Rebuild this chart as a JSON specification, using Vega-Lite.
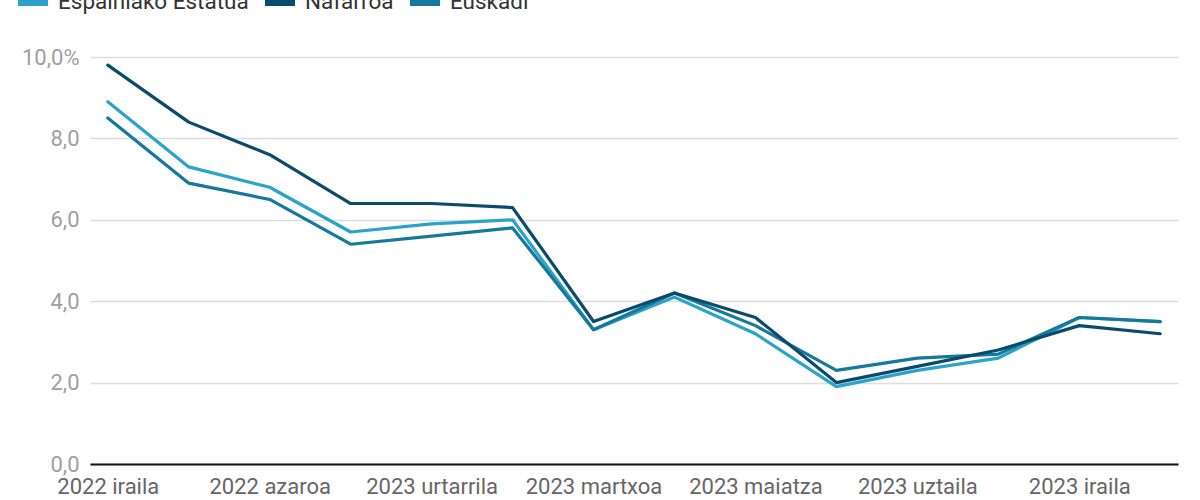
{
  "$schema": "https://vega.github.io/schema/vega-lite/v6.json",
  "width": 1088,
  "height": 407,
  "autosize": {"type": "none"},
  "padding": {"left": 90, "top": 57, "right": 22, "bottom": 36},
  "background": "white",
  "config": {
    "font": "Roboto",
    "view": {"stroke": null}
  },
  "data": {
    "values": [
      {"month": "2022 iraila", "area": "Espainiako Estatua", "rate": 8.9},
      {"month": "2022 urria", "area": "Espainiako Estatua", "rate": 7.3},
      {"month": "2022 azaroa", "area": "Espainiako Estatua", "rate": 6.8},
      {"month": "2022 abendua", "area": "Espainiako Estatua", "rate": 5.7},
      {"month": "2023 urtarrila", "area": "Espainiako Estatua", "rate": 5.9},
      {"month": "2023 otsaila", "area": "Espainiako Estatua", "rate": 6.0},
      {"month": "2023 martxoa", "area": "Espainiako Estatua", "rate": 3.3},
      {"month": "2023 apirila", "area": "Espainiako Estatua", "rate": 4.1},
      {"month": "2023 maiatza", "area": "Espainiako Estatua", "rate": 3.2},
      {"month": "2023 ekaina", "area": "Espainiako Estatua", "rate": 1.9},
      {"month": "2023 uztaila", "area": "Espainiako Estatua", "rate": 2.3},
      {"month": "2023 abuztua", "area": "Espainiako Estatua", "rate": 2.6},
      {"month": "2023 iraila", "area": "Espainiako Estatua", "rate": 3.6},
      {"month": "2023 urria", "area": "Espainiako Estatua", "rate": 3.5},
      {"month": "2022 iraila", "area": "Euskadi", "rate": 8.5},
      {"month": "2022 urria", "area": "Euskadi", "rate": 6.9},
      {"month": "2022 azaroa", "area": "Euskadi", "rate": 6.5},
      {"month": "2022 abendua", "area": "Euskadi", "rate": 5.4},
      {"month": "2023 urtarrila", "area": "Euskadi", "rate": 5.6},
      {"month": "2023 otsaila", "area": "Euskadi", "rate": 5.8},
      {"month": "2023 martxoa", "area": "Euskadi", "rate": 3.3},
      {"month": "2023 apirila", "area": "Euskadi", "rate": 4.2},
      {"month": "2023 maiatza", "area": "Euskadi", "rate": 3.4},
      {"month": "2023 ekaina", "area": "Euskadi", "rate": 2.3},
      {"month": "2023 uztaila", "area": "Euskadi", "rate": 2.6},
      {"month": "2023 abuztua", "area": "Euskadi", "rate": 2.7},
      {"month": "2023 iraila", "area": "Euskadi", "rate": 3.6},
      {"month": "2023 urria", "area": "Euskadi", "rate": 3.5},
      {"month": "2022 iraila", "area": "Nafarroa", "rate": 9.8},
      {"month": "2022 urria", "area": "Nafarroa", "rate": 8.4},
      {"month": "2022 azaroa", "area": "Nafarroa", "rate": 7.6},
      {"month": "2022 abendua", "area": "Nafarroa", "rate": 6.4},
      {"month": "2023 urtarrila", "area": "Nafarroa", "rate": 6.4},
      {"month": "2023 otsaila", "area": "Nafarroa", "rate": 6.3},
      {"month": "2023 martxoa", "area": "Nafarroa", "rate": 3.5},
      {"month": "2023 apirila", "area": "Nafarroa", "rate": 4.2},
      {"month": "2023 maiatza", "area": "Nafarroa", "rate": 3.6},
      {"month": "2023 ekaina", "area": "Nafarroa", "rate": 2.0},
      {"month": "2023 uztaila", "area": "Nafarroa", "rate": 2.4},
      {"month": "2023 abuztua", "area": "Nafarroa", "rate": 2.8},
      {"month": "2023 iraila", "area": "Nafarroa", "rate": 3.4},
      {"month": "2023 urria", "area": "Nafarroa", "rate": 3.2}
    ]
  },
  "mark": {"type": "line", "strokeWidth": 3.2, "strokeJoin": "round", "strokeCap": "round"},
  "encoding": {
    "x": {
      "field": "month",
      "type": "ordinal",
      "sort": null,
      "scale": {"type": "point", "padding": 0.22},
      "axis": {
        "title": null,
        "values": ["2022 iraila", "2022 azaroa", "2023 urtarrila", "2023 martxoa", "2023 maiatza", "2023 uztaila", "2023 iraila"],
        "labelAngle": 0,
        "labelFontSize": 22,
        "labelColor": "#666666",
        "labelPadding": 12,
        "labelOverlap": false,
        "ticks": false,
        "domainColor": "#111111",
        "domainWidth": 2,
        "grid": false
      }
    },
    "y": {
      "field": "rate",
      "type": "quantitative",
      "scale": {"domain": [0, 10], "nice": false},
      "axis": {
        "title": null,
        "values": [0, 2, 4, 6, 8, 10],
        "labelExpr": "datum.value == 10 ? '10,0%' : replace(format(datum.value, '.1f'), '.', ',')",
        "labelFontSize": 22,
        "labelColor": "#a0a0a0",
        "labelPadding": 11,
        "ticks": false,
        "domain": false,
        "gridColor": "#dddddd",
        "gridWidth": 1.5
      }
    },
    "color": {
      "field": "area",
      "type": "nominal",
      "scale": {
        "domain": ["Espainiako Estatua", "Nafarroa", "Euskadi"],
        "range": ["#2ba3c9", "#0a4b6c", "#14799d"]
      },
      "legend": {
        "title": null,
        "orient": "none",
        "direction": "horizontal",
        "legendX": -76,
        "legendY": -74,
        "symbolType": "stroke",
        "symbolStrokeWidth": 8,
        "symbolSize": 900,
        "labelFontSize": 22.5,
        "labelLimit": 0,
        "labelColor": "#333333",
        "labelOffset": 6,
        "columnPadding": 0
      }
    },
    "order": {"field": "area"}
  }
}
